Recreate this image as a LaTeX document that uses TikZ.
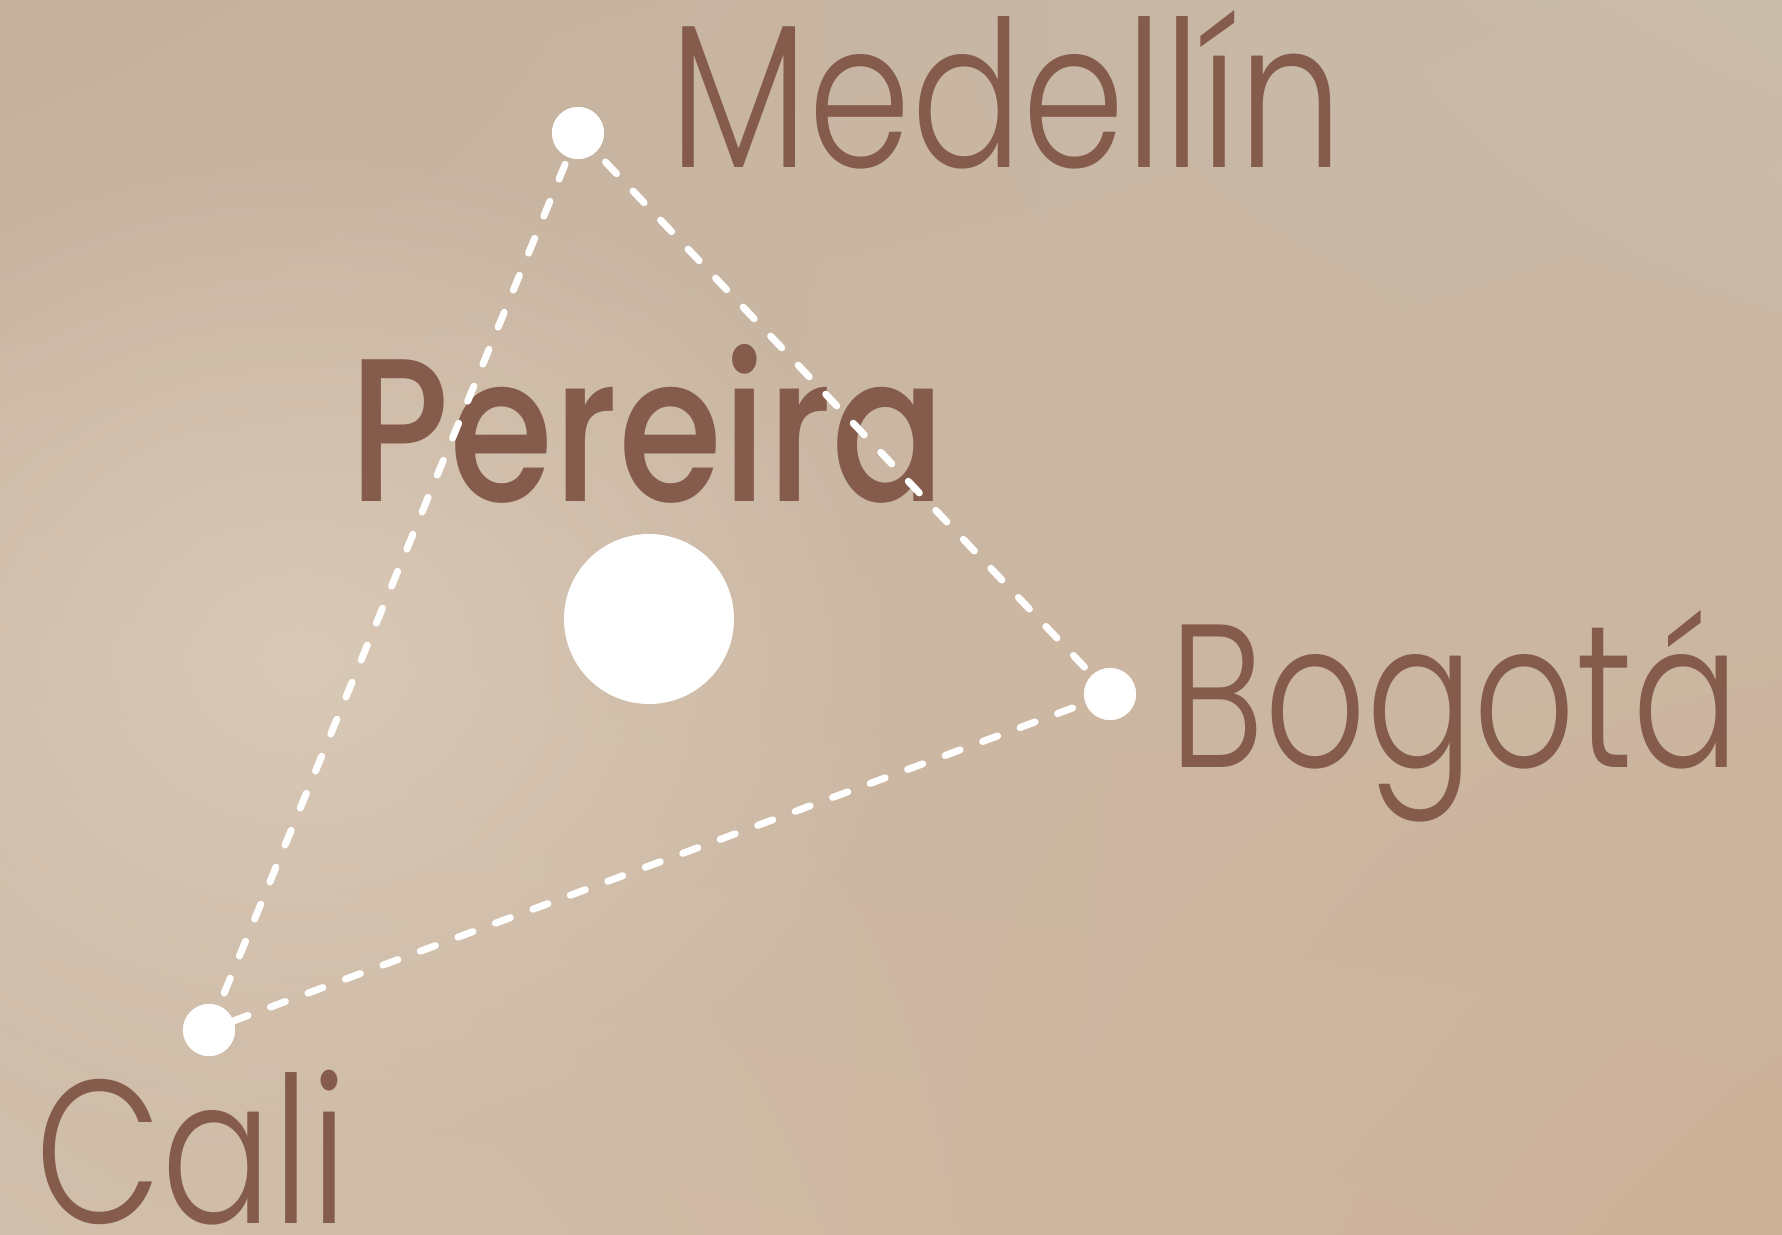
\documentclass[tikz,border=0pt]{standalone}
\usepackage{fontspec}
\setmainfont{Poppins}[UprightFont=* Light, BoldFont=* Medium]
\usepackage{graphicx}
\usetikzlibrary{fadings,shadings}

\definecolor{citytext}{HTML}{855C4B}
\definecolor{bgtl}{HTML}{C5B09C}
\definecolor{bgtr}{HTML}{C9BBAA}
\definecolor{bgbl}{HTML}{D0BFAC}
\definecolor{bgbr}{HTML}{CDB198}
\definecolor{bgglow}{HTML}{D9C9B7}

\tikzfading[name=softglow, inner color=transparent!0, outer color=transparent!100]

\begin{document}
\begin{tikzpicture}[
  x=1pt, y=-1pt,
  dot/.style={circle, fill=white, inner sep=0pt, minimum size=52pt},
  hub/.style={dot, minimum size=170pt},
  route/.style={white, line width=7pt, line cap=round, dash pattern=on 16pt off 24pt},
  city/.style={anchor=base west, inner sep=0pt, text=citytext, font=\fontsize{204}{240}\selectfont}
]
\useasboundingbox (0,0) rectangle (1782,1234);
% background
\shade[upper left=bgtl, upper right=bgtr, lower left=bgbl, lower right=bgbr] (0,0) rectangle (1782,1234);
\begin{scope}
\clip (0,0) rectangle (1782,1234);
\fill[bgglow, path fading=softglow] (300,660) ellipse (620pt and 520pt);
\end{scope}

% cities
\node[dot] (medellin) at (578,133) {};
\node[dot] (bogota) at (1110,694) {};
\node[dot] (cali) at (209,1030) {};
\node[hub] (pereira) at (649,619) {};

% labels
\node[city] (medellinlabel) at (669,167) {\resizebox{674pt}{\height}{Medellín}};
\node[city, font=\fontsize{204}{240}\selectfont\bfseries] (pereiralabel) at (349,501) {\resizebox{597pt}{\height}{Pereira}};
\node[city] (bogotalabel) at (1169,767) {\resizebox{571pt}{\height}{Bogotá}};
\node[city] (calilabel) at (35,1223) {\resizebox{313pt}{\height}{Cali}};

% routes
\draw[route] (medellin.center) -- (bogota.center);
\draw[route] (bogota.center) -- (cali.center);
\draw[route] (cali.center) -- (medellin.center);

% dots on top of the routes
\fill[white] (medellin) circle (26pt);
\fill[white] (bogota) circle (26pt);
\fill[white] (cali) circle (26pt);
\end{tikzpicture}
\end{document}
